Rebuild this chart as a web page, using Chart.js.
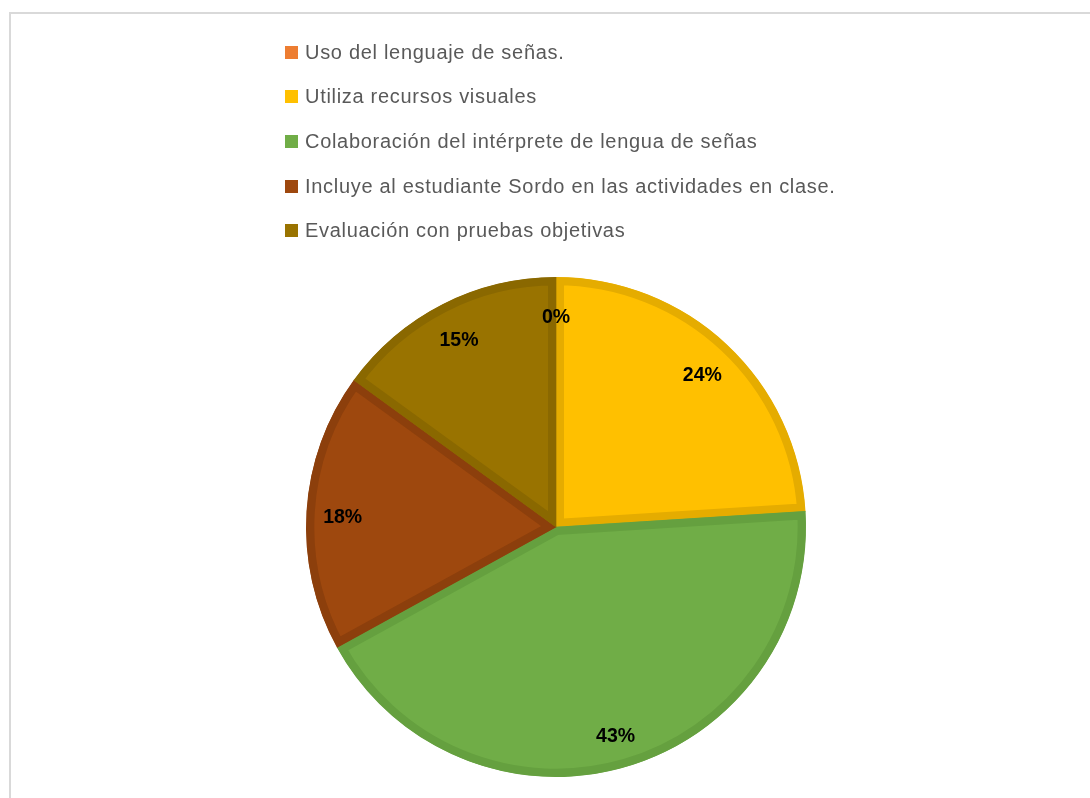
<!DOCTYPE html>
<html>
<head>
<meta charset="utf-8">
<script src="https://cdn.jsdelivr.net/npm/chart.js@4/dist/chart.umd.min.js"></script>
<style>
  html, body { margin: 0; padding: 0; background: #fff; }
  #wrap { position: relative; width: 1090px; height: 798px; overflow: hidden; }
  #frame { position: absolute; left: 9px; top: 12px; width: 1200px; height: 900px; border: 2px solid #d9d9d9; box-sizing: border-box; }
  canvas { position: absolute; left: 0; top: 0; }
  #legend { position: absolute; left: 285px; top: 30px; font-family: "Liberation Sans", Arial, sans-serif; font-size: 20px; letter-spacing: 0.7px; color: #595959; }
  .item { position: absolute; left: 0; height: 22px; white-space: nowrap; display: flex; align-items: center; }
  .sw { width: 13px; height: 13px; margin-right: 7px; flex: none; }
</style>
</head>
<body>
<div id="wrap">
  <div id="frame"></div>
  <canvas id="c" width="1090" height="798"></canvas>
  <div id="legend"></div>
</div>
<script>
const categories = [
  "Uso del lenguaje de señas.",
  "Utiliza recursos visuales",
  "Colaboración del intérprete de lengua de señas",
  "Incluye al estudiante Sordo en las actividades en clase.",
  "Evaluación con pruebas objetivas"
];
const values = [0, 24, 43, 18, 15];
const fillColors = ["#ED7D31", "#FFC000", "#70AD47", "#9E480E", "#997300"];
const edgeColors = ["#D46F2B", "#E5AC00", "#65A03F", "#8C3F0C", "#8A6800"];

// HTML legend built from the data arrays
const legend = document.getElementById('legend');
categories.forEach((name, i) => {
  const d = document.createElement('div');
  d.className = 'item';
  d.style.top = (11 + i * 44.7) + 'px';
  const sw = document.createElement('span');
  sw.className = 'sw';
  sw.style.background = fillColors[i];
  const t = document.createElement('span');
  t.textContent = name;
  d.appendChild(sw); d.appendChild(t);
  legend.appendChild(d);
});

const labelPlugin = {
  id: 'pctLabels',
  afterDatasetsDraw(chart) {
    const ctx = chart.ctx;
    const meta = chart.getDatasetMeta(0);
    const total = values.reduce((a, b) => a + b, 0);
    ctx.save();
    ctx.font = 'bold 19.5px "Liberation Sans", Arial, sans-serif';
    ctx.fillStyle = '#000';
    ctx.textAlign = 'center';
    ctx.textBaseline = 'middle';
    meta.data.forEach((arc, i) => {
      const p = arc.getProps(['x', 'y', 'startAngle', 'endAngle', 'outerRadius'], true);
      const mid = (p.startAngle + p.endAngle) / 2;
      const r = p.outerRadius * 0.855;
      const x = p.x + Math.cos(mid) * r;
      const y = p.y + Math.sin(mid) * r + 4;
      ctx.fillText(Math.round(values[i] / total * 100) + '%', x, y);
    });
    ctx.restore();
  }
};

new Chart(document.getElementById('c'), {
  type: 'pie',
  data: {
    labels: categories,
    datasets: [{
      data: values,
      backgroundColor: fillColors,
      borderColor: edgeColors,
      borderWidth: 8,
      borderAlign: 'inner',
      hoverOffset: 0
    }]
  },
  options: {
    responsive: false,
    animation: false,
    events: [],
    layout: { padding: { top: 277, bottom: 21, left: 22, right: 0 } },
    plugins: {
      legend: { display: false },
      tooltip: { enabled: false }
    }
  },
  plugins: [labelPlugin]
});
</script>
</body>
</html>
